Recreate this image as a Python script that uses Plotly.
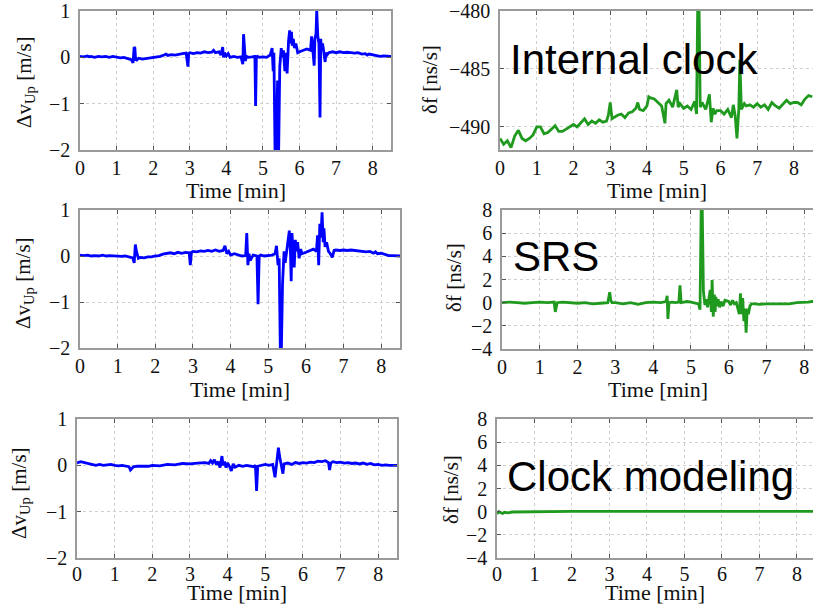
import plotly.graph_objects as go

W, H = 813, 607

# ---------------- data ----------------
TL_T = [0.0, 0.1, 0.2, 0.25, 0.3, 0.4, 0.5, 0.6, 0.7, 0.8,
        0.9, 1.0, 1.1, 1.2, 1.3, 1.4, 1.45, 1.48, 1.5, 1.52,
        1.55, 1.6, 1.7, 1.8, 1.9, 2.0, 2.1, 2.2, 2.3, 2.35,
        2.4, 2.5, 2.6, 2.7, 2.8, 2.9, 2.95, 2.97, 3.0, 3.1,
        3.2, 3.3, 3.4, 3.5, 3.6, 3.65, 3.7, 3.8, 3.85, 3.9,
        3.92, 3.95, 4.0, 4.05, 4.1, 4.2, 4.3, 4.4, 4.45, 4.47,
        4.5, 4.52, 4.55, 4.6, 4.7, 4.78, 4.8, 4.82, 4.85, 4.9,
        5.0, 5.1, 5.2, 5.25, 5.28, 5.3, 5.33, 5.36, 5.4, 5.43,
        5.46, 5.5, 5.53, 5.56, 5.6, 5.63, 5.66, 5.68, 5.7, 5.73,
        5.76, 5.78, 5.8, 5.83, 5.86, 5.9, 5.95, 6.0, 6.1, 6.2,
        6.3, 6.33, 6.36, 6.4, 6.42, 6.45, 6.47, 6.5, 6.53, 6.56,
        6.58, 6.6, 6.63, 6.66, 6.7, 6.72, 6.75, 6.8, 6.9, 7.0,
        7.1, 7.2, 7.3, 7.4, 7.5, 7.6, 7.7, 7.8, 7.85, 7.9,
        8.0, 8.1, 8.2, 8.3, 8.4, 8.5]
TL_V = [0.02, 0.01, 0.03, 0.01, 0.02, 0.0, 0.02, 0.01, 0.02, 0.0,
        0.02, 0.01, -0.01, 0.0, -0.02, -0.05, -0.12, 0.22, 0.2, -0.05,
        -0.06, -0.02, -0.04, -0.03, -0.02, -0.01, 0.0, 0.02, 0.05, 0.07,
        0.04, 0.06, 0.05, 0.07, 0.08, 0.09, -0.2, 0.08, 0.1, 0.08,
        0.1, 0.09, 0.12, 0.1, 0.11, 0.15, 0.1, 0.12, 0.05, 0.22,
        0.0, 0.1, 0.03, 0.08, 0.0, 0.02, 0.0, 0.01, -0.15, 0.5,
        0.05, -0.08, 0.02, 0.0, 0.01, 0.02, -1.05, 0.0, 0.02, 0.0,
        0.01, 0.0, 0.05, 0.2, -0.3, 0.1, -2.0, -2.0, -0.5, -2.0,
        -0.2, 0.2, 0.0, 0.15, -0.3, 0.1, -0.35, 0.2, 0.35, 0.58,
        0.3, 0.55, 0.25, 0.4, 0.2, 0.3, 0.1, 0.12, 0.15, 0.18,
        0.15, 0.45, 0.2, -0.18, 0.4, 0.5, 1.0, 0.45, 0.3, -1.3,
        0.4, 0.15, 0.3, 0.1, -0.1, 0.1, 0.05, 0.1, 0.12, 0.1,
        0.12, 0.1, 0.11, 0.1, 0.09, 0.1, 0.07, 0.08, 0.05, 0.07,
        0.05, 0.03, 0.02, 0.03, 0.02, 0.02]

ML_T = [0.0, 0.1, 0.2, 0.3, 0.4, 0.5, 0.6, 0.7, 0.8, 0.9,
        1.0, 1.1, 1.2, 1.3, 1.4, 1.44, 1.47, 1.5, 1.55, 1.6,
        1.7, 1.8, 1.9, 2.0, 2.1, 2.2, 2.3, 2.4, 2.5, 2.6,
        2.7, 2.8, 2.9, 2.93, 2.96, 3.0, 3.1, 3.2, 3.3, 3.4,
        3.5, 3.6, 3.7, 3.8, 3.85, 3.9, 3.95, 4.0, 4.1, 4.2,
        4.3, 4.4, 4.43, 4.46, 4.49, 4.52, 4.6, 4.7, 4.73, 4.76,
        4.8, 4.9, 5.0, 5.1, 5.18, 5.22, 5.26, 5.29, 5.32, 5.35,
        5.38, 5.42, 5.45, 5.5, 5.53, 5.56, 5.59, 5.61, 5.63, 5.66,
        5.69, 5.72, 5.75, 5.78, 5.82, 5.86, 5.9, 6.0, 6.1, 6.2,
        6.28, 6.31, 6.34, 6.37, 6.4, 6.43, 6.46, 6.48, 6.51, 6.55,
        6.6, 6.65, 6.7, 6.75, 6.8, 6.9, 7.0, 7.1, 7.2, 7.3,
        7.4, 7.5, 7.6, 7.7, 7.8, 7.85, 7.9, 8.0, 8.1, 8.2,
        8.3, 8.4, 8.5]
ML_V = [0.02, 0.01, 0.02, 0.0, 0.01, 0.0, 0.02, 0.0, 0.01, 0.0,
        0.0, -0.01, 0.0, -0.02, -0.04, -0.15, 0.25, 0.1, -0.05, -0.03,
        -0.04, -0.02, -0.02, 0.0, 0.01, 0.04, 0.05, 0.07, 0.05, 0.08,
        0.06, 0.08, 0.07, -0.2, 0.08, 0.1, 0.09, 0.11, 0.1, 0.12,
        0.1, 0.13, 0.1, 0.12, 0.22, 0.05, 0.1, 0.02, 0.05, 0.02,
        0.0, 0.01, 0.5, -0.2, 0.05, -0.1, 0.02, 0.0, -1.05, 0.0,
        0.02, 0.0, 0.01, 0.02, 0.05, 0.22, -0.2, -0.05, -2.0, -2.0,
        -0.6, 0.1, -0.15, 0.15, 0.3, 0.55, 0.1, -0.55, 0.5, 0.2,
        -0.25, 0.35, 0.1, 0.3, -0.05, 0.15, 0.05, 0.08, 0.12, 0.15,
        0.1, 0.45, -0.2, 0.7, 0.4, 0.95, 0.3, 0.6, 0.2, 0.3,
        0.1, 0.05, -0.03, 0.12, 0.13, 0.12, 0.13, 0.12, 0.13, 0.12,
        0.11, 0.1, 0.09, 0.1, 0.06, 0.09, 0.05, 0.06, 0.03, 0.01,
        0.01, 0.0, 0.0]

BL_T = [0.0, 0.1, 0.2, 0.3, 0.4, 0.5, 0.6, 0.7, 0.8, 0.9,
        1.0, 1.1, 1.2, 1.3, 1.38, 1.42, 1.5, 1.6, 1.7, 1.8,
        1.9, 2.0, 2.2, 2.4, 2.6, 2.8, 3.0, 3.2, 3.4, 3.5,
        3.55, 3.6, 3.65, 3.7, 3.75, 3.8, 3.85, 3.88, 3.92, 3.96,
        4.0, 4.05, 4.1, 4.15, 4.2, 4.3, 4.4, 4.5, 4.6, 4.7,
        4.74, 4.77, 4.8, 4.9, 5.0, 5.1, 5.2, 5.26, 5.3, 5.35,
        5.38, 5.42, 5.47, 5.5, 5.6, 5.7, 5.8, 5.9, 6.0, 6.1,
        6.2, 6.3, 6.4, 6.5, 6.6, 6.68, 6.71, 6.74, 6.8, 6.9,
        7.0, 7.1, 7.2, 7.3, 7.4, 7.5, 7.6, 7.7, 7.8, 7.9,
        8.0, 8.1, 8.2, 8.3, 8.4, 8.5]
BL_V = [0.05, 0.08, 0.06, 0.04, 0.03, 0.0, 0.02, 0.0, 0.01, 0.02,
        0.0, -0.01, 0.0, -0.02, -0.03, -0.1, -0.03, -0.02, -0.02, -0.01,
        -0.02, 0.0, -0.01, 0.02, 0.01, 0.04, 0.03, 0.05, 0.06, 0.04,
        0.1, 0.05, 0.12, 0.02, 0.08, -0.05, 0.2, 0.0, 0.08, -0.05,
        0.05, -0.02, -0.12, 0.03, -0.04, 0.0, -0.02, 0.0, -0.01, -0.03,
        0.0, -0.55, -0.02, 0.0, 0.02, 0.0, 0.02, -0.26, 0.1, 0.38,
        0.2, 0.0, -0.18, 0.03, 0.05, 0.02, 0.06, 0.04, 0.06, 0.05,
        0.07, 0.06, 0.09, 0.08, 0.1, 0.06, -0.1, 0.05, 0.08, 0.06,
        0.07, 0.05, 0.06, 0.04, 0.05, 0.03, 0.05, 0.02, 0.04, 0.01,
        0.02, 0.0, 0.01, 0.0, 0.0, 0.0]

TR_T = [0.0, 0.1, 0.2, 0.3, 0.4, 0.5, 0.6, 0.7, 0.8, 0.9,
        1.0, 1.1, 1.2, 1.3, 1.4, 1.5, 1.6, 1.7, 1.8, 1.9,
        2.0, 2.1, 2.2, 2.3, 2.4, 2.5, 2.6, 2.7, 2.8, 2.9,
        2.95, 3.0, 3.05, 3.2, 3.3, 3.4, 3.5, 3.6, 3.7, 3.75,
        3.8, 3.9, 4.0, 4.05, 4.1, 4.2, 4.3, 4.4, 4.49, 4.52,
        4.6, 4.7, 4.81, 4.85, 4.9, 5.0, 5.1, 5.2, 5.3, 5.35,
        5.38, 5.42, 5.45, 5.5, 5.6, 5.7, 5.75, 5.8, 5.85, 5.9,
        6.0, 6.1, 6.2, 6.3, 6.35, 6.4, 6.45, 6.5, 6.53, 6.57,
        6.65, 6.7, 6.8, 6.9, 7.0, 7.1, 7.2, 7.3, 7.4, 7.5,
        7.6, 7.7, 7.8, 7.9, 8.0, 8.1, 8.2, 8.3, 8.4, 8.5]
TR_V = [-491.0, -491.5, -491.2, -491.8, -490.8, -490.3, -491.0, -491.2, -491.0, -490.7,
        -490.0, -490.0, -490.6, -490.5, -490.2, -489.9, -490.4, -490.4, -490.2, -490.0,
        -489.8, -490.0, -489.6, -489.3, -489.8, -489.5, -489.7, -489.4, -489.6, -489.5,
        -489.0, -487.9, -489.3, -489.0, -488.9, -489.2, -488.8, -488.7, -488.4, -487.9,
        -488.5, -488.6, -488.2, -487.4, -487.5, -487.6, -487.9, -488.2, -489.7, -488.0,
        -487.7, -488.3, -486.8, -488.3, -488.0, -488.4, -488.2, -488.5, -487.8, -488.9,
        -480.0, -480.0, -488.3, -487.9, -488.5, -487.2, -489.6, -488.4, -488.9, -488.6,
        -488.6, -488.9, -488.5, -489.2, -488.1, -489.0, -491.0, -488.5, -484.2, -488.5,
        -488.0, -488.2, -488.1, -488.3, -488.0, -488.3, -488.1, -488.5, -487.9, -488.2,
        -488.4, -488.0, -487.7, -488.0, -487.9, -487.9, -488.1, -487.6, -487.3, -487.4]

MR_T = [0.0, 0.2, 0.4, 0.6, 0.8, 1.0, 1.2, 1.38, 1.41, 1.43,
        1.46, 1.6, 1.8, 2.0, 2.2, 2.4, 2.6, 2.8, 2.85, 2.88,
        2.91, 3.0, 3.2, 3.4, 3.6, 3.8, 4.0, 4.2, 4.34, 4.37,
        4.39, 4.42, 4.5, 4.6, 4.68, 4.71, 4.74, 4.8, 4.9, 5.0,
        5.1, 5.2, 5.24, 5.27, 5.3, 5.33, 5.37, 5.4, 5.44, 5.48,
        5.51, 5.54, 5.56, 5.59, 5.62, 5.64, 5.66, 5.68, 5.72, 5.76,
        5.8, 5.85, 5.9, 6.0, 6.05, 6.1, 6.15, 6.2, 6.25, 6.28,
        6.31, 6.34, 6.37, 6.4, 6.43, 6.46, 6.49, 6.52, 6.56, 6.6,
        6.7, 6.8, 7.0, 7.2, 7.4, 7.6, 7.8, 8.0, 8.1, 8.2,
        8.3]
MR_V = [0.0, 0.05, 0.0, -0.05, 0.0, 0.05, 0.0, 0.05, -0.8, -0.3,
        0.0, 0.05, 0.0, -0.05, 0.0, -0.1, -0.05, 0.0, 0.9, 0.2,
        0.0, 0.0, -0.1, 0.0, -0.15, 0.0, 0.05, 0.0, 0.1, 0.6,
        -1.4, 0.0, 0.05, 0.0, 0.05, 1.5, 0.0, 0.05, 0.1, 0.05,
        0.0, -0.1, -0.6, 8.0, 8.0, 1.0, -0.2, 0.3, -0.4, 0.5,
        1.1, -0.8, 1.95, -1.2, 0.7, -0.8, 0.5, -0.3, 0.3, -0.4,
        0.1, -0.3, 0.2, 0.1, -0.2, 0.2, -0.1, 0.0, -0.5, -1.0,
        0.8, -1.0, 0.4, -1.6, -0.5, -2.6, -0.5, -1.0, -0.3, -0.1,
        -0.1, -0.15, -0.1, -0.1, -0.05, -0.1, 0.0, 0.0, 0.05, 0.1,
        0.1]

BR_T = [0.0, 0.05, 0.1, 0.15, 0.2, 0.3, 0.4, 0.6, 1.0, 2.0,
        3.0, 4.0, 5.0, 6.0, 7.0, 8.0, 8.5]
BR_V = [-0.2, 0.0, -0.1, -0.15, -0.05, -0.1, -0.03, -0.02, 0.0, 0.03,
        0.02, 0.03, 0.02, 0.02, 0.03, 0.02, 0.02]

X_TICKS = [0, 1, 2, 3, 4, 5, 6, 7, 8]
DV_TICKS = [-2, -1, 0, 1]
TR_TICKS = [-490, -485, -480]
DF_TICKS = [-4, -2, 0, 2, 4, 6, 8]

LABELS = ["Internal clock", "SRS", "Clock modeling"]
DV_TITLE = "Δv<sub>Up</sub> [m/s]"
DF_TITLE = "δf [ns/s]"
X_TITLE = "Time [min]"

BLUE = "#0000ff"
GREEN = "#1f9a1f"

# ---------------- layout helpers ----------------
def fx(p):
    return p / W

def fy(p):
    return 1 - p / H

# (x0, x1, ytop, ybot) pixel boxes, x range, y range, y ticks, data, colour, right-column flag
panels = [
    ((80, 391, 11, 150), [0, 8.5], [-2, 1], DV_TICKS, TL_T, TL_V, BLUE, False),
    ((500, 813, 11, 150), [0, 8.52], [-492, -480], TR_TICKS, TR_T, TR_V, GREEN, True),
    ((80, 400, 210, 348), [0, 8.5], [-2, 1], DV_TICKS, ML_T, ML_V, BLUE, False),
    ((502, 813, 210, 349), [0, 8.23], [-4, 8], DF_TICKS, MR_T, MR_V, GREEN, True),
    ((77, 397, 419, 558), [0, 8.5], [-2, 1], DV_TICKS, BL_T, BL_V, BLUE, False),
    ((497, 813, 419, 558), [0, 8.43], [-4, 8], DF_TICKS, BR_T, BR_V, GREEN, True),
]

SERIF = "Liberation Serif"
tickfont = dict(family=SERIF, size=20, color="#111111")

fig = go.Figure()
layout = dict(width=W, height=H, margin=dict(l=0, r=0, t=0, b=0),
              paper_bgcolor="white", plot_bgcolor="white", showlegend=False,
              autosize=False)
annotations = []

ytitle_pos = [(25, 82), (430, 80), (24, 283), (454, 278), (20, 493), (451, 490)]
xtitle_y = [190, 389, None]
x_standoff = [-1, -1, -3]

for i, (box, xr, yr, yt, tt, vv, col, right) in enumerate(panels):
    n = i + 1
    row = i // 2
    xa = "x" if n == 1 else f"x{n}"
    ya = "y" if n == 1 else f"y{n}"
    x0, x1, y0, y1 = box
    fig.add_trace(go.Scatter(x=tt, y=vv, mode="lines", xaxis=xa, yaxis=ya,
                             line=dict(color=col, width=2.8), hoverinfo="skip"))
    common = dict(showline=True, linecolor="#9a9a9a", linewidth=1.5,
                  ticks="inside", ticklen=4, tickcolor="#555555", tickwidth=1,
                  showgrid=True, gridcolor="#cfcfcf", griddash="dot", gridwidth=1,
                  zeroline=False, tickfont=tickfont, automargin=False,
                  ticklabeloverflow="allow")
    layout["xaxis" if n == 1 else f"xaxis{n}"] = dict(
        domain=[fx(x0), fx(x1)], range=xr, anchor=ya, tickvals=X_TICKS,
        mirror="ticks", ticklabelstandoff=x_standoff[row], **common)
    layout["yaxis" if n == 1 else f"yaxis{n}"] = dict(
        domain=[fy(y1), fy(y0)], range=yr, anchor=xa, tickvals=yt,
        mirror=(False if right else "ticks"), ticklabelstandoff=4, **common)
    # axis titles
    tx, ty = ytitle_pos[i]
    annotations.append(dict(text=(DF_TITLE if right else DV_TITLE), textangle=-90,
                            x=fx(tx), y=fy(ty), xref="paper", yref="paper",
                            showarrow=False, xanchor="center", yanchor="middle",
                            font=dict(family=SERIF, size=21, color="#111111")))
    if xtitle_y[row] is None:
        ypos, yanc = 0.0, "bottom"
    else:
        ypos, yanc = fy(xtitle_y[row]), "middle"
    annotations.append(dict(text=X_TITLE, x=fx((x0 + x1) / 2), y=ypos,
                            xref="paper", yref="paper", showarrow=False,
                            xanchor="center", yanchor=yanc,
                            font=dict(family=SERIF, size=22, color="#111111")))

label_pos = [(508, 59), (511, 256), (505, 476)]
for lab, (lx, ly) in zip(LABELS, label_pos):
    annotations.append(dict(text=lab, x=fx(lx), y=fy(ly), xref="paper", yref="paper",
                            showarrow=False, xanchor="left", yanchor="middle",
                            font=dict(family="Liberation Sans", size=42, color="black")))

layout["annotations"] = annotations
fig.update_layout(**layout)
fig.write_html("out.html")
